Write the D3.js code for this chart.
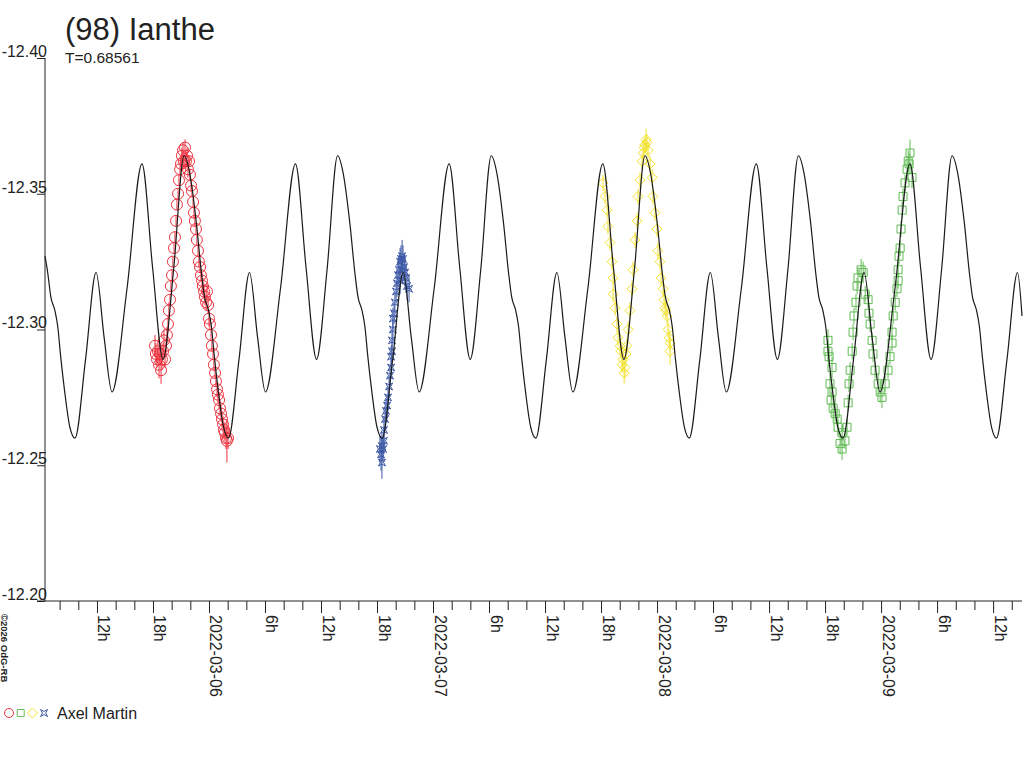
<!DOCTYPE html>
<html>
<head>
<meta charset="utf-8">
<script src="https://cdn.jsdelivr.net/npm/d3@7"></script>
<style>
  body { margin: 0; background: #fff; }
  svg { display: block; }
  text { font-family: "Liberation Sans", Arial, sans-serif; fill: #222; }
</style>
</head>
<body>
<div id="chart"></div>
<script>
const title = "(98) Ianthe"
const periodLabel = "T=0.68561"
const observer = "Axel Martin"
const credit = "\u00a92026 OdG-RB"

// times are days counted from 2022-03-06 00:00 UT
const t0 = Date.UTC(2022, 2, 6)
const xDomain = [-0.732, 3.629]
const yDomain = [-12.40, -12.20]
const yTicks = [-12.40, -12.35, -12.30, -12.25, -12.20]

// fitted light curve [day, mag]
const fitCurve = [
  [-0.732,-12.327],[-0.720,-12.321],[-0.706,-12.312],[-0.688,-12.307],[-0.675,-12.301],[-0.662,-12.290],[-0.644,-12.277],[-0.621,-12.264],
  [-0.598,-12.260],[-0.551,-12.289],[-0.504,-12.321],[-0.468,-12.297],[-0.433,-12.277],[-0.366,-12.315],[-0.299,-12.361],[-0.252,-12.323],[-0.205,-12.289],[-0.158,-12.322],
  [-0.111,-12.364],[-0.087,-12.358],[-0.056,-12.339],[-0.034,-12.321],[-0.020,-12.312],[-0.002,-12.307],[0.011,-12.301],[0.024,-12.290],[0.042,-12.277],[0.065,-12.264],
  [0.087,-12.260],[0.134,-12.289],[0.181,-12.321],[0.217,-12.297],[0.252,-12.277],[0.319,-12.315],[0.386,-12.361],[0.433,-12.323],[0.480,-12.289],[0.527,-12.322],
  [0.574,-12.364],[0.598,-12.358],[0.629,-12.339],[0.651,-12.321],[0.665,-12.312],[0.683,-12.307],[0.696,-12.301],[0.709,-12.290],[0.727,-12.277],[0.750,-12.264],
  [0.773,-12.260],[0.820,-12.289],[0.867,-12.321],[0.903,-12.297],[0.938,-12.277],[1.005,-12.315],[1.072,-12.361],[1.119,-12.323],[1.166,-12.289],[1.213,-12.322],
  [1.260,-12.364],[1.284,-12.358],[1.315,-12.339],[1.337,-12.321],[1.351,-12.312],[1.369,-12.307],[1.382,-12.301],[1.395,-12.290],[1.413,-12.277],[1.436,-12.264],
  [1.459,-12.260],[1.506,-12.289],[1.553,-12.321],[1.589,-12.297],[1.624,-12.277],[1.691,-12.315],[1.758,-12.361],[1.805,-12.323],[1.852,-12.289],[1.899,-12.322],
  [1.946,-12.364],[1.970,-12.358],[2.001,-12.339],[2.023,-12.321],[2.037,-12.312],[2.055,-12.307],[2.068,-12.301],[2.081,-12.290],[2.099,-12.277],[2.122,-12.264],
  [2.144,-12.260],[2.191,-12.289],[2.238,-12.321],[2.274,-12.297],[2.309,-12.277],[2.376,-12.315],[2.443,-12.361],[2.490,-12.323],[2.537,-12.289],[2.584,-12.322],
  [2.631,-12.364],[2.655,-12.358],[2.686,-12.339],[2.708,-12.321],[2.722,-12.312],[2.740,-12.307],[2.753,-12.301],[2.766,-12.290],[2.784,-12.277],[2.807,-12.264],
  [2.830,-12.260],[2.877,-12.289],[2.924,-12.321],[2.960,-12.297],[2.995,-12.277],[3.062,-12.315],[3.129,-12.361],[3.176,-12.323],[3.223,-12.289],[3.270,-12.322],
  [3.317,-12.364],[3.341,-12.358],[3.372,-12.339],[3.394,-12.321],[3.408,-12.312],[3.426,-12.307],[3.439,-12.301],[3.452,-12.290],[3.470,-12.277],[3.493,-12.264],
  [3.515,-12.260],[3.562,-12.289],[3.609,-12.321],[3.629,-12.305]
]

// observations [day, mag, error]
const session1 = [
  [-0.241,-12.294,0.004],[-0.237,-12.291,0.004],[-0.232,-12.289,0.003],[-0.228,-12.292,0.004],[-0.223,-12.287,0.005],
  [-0.219,-12.291,0.004],[-0.214,-12.285,0.005],[-0.210,-12.289,0.004],[-0.205,-12.292,0.003],[-0.201,-12.296,0.004],
  [-0.196,-12.289,0.003],[-0.192,-12.294,0.003],[-0.188,-12.298,0.003],[-0.183,-12.302,0.003],[-0.179,-12.307,0.003],
  [-0.174,-12.311,0.002],[-0.170,-12.316,0.002],[-0.165,-12.320,0.002],[-0.161,-12.325,0.002],[-0.156,-12.330,0.002],
  [-0.152,-12.334,0.002],[-0.147,-12.340,0.002],[-0.143,-12.346,0.002],[-0.138,-12.350,0.002],[-0.134,-12.355,0.002],
  [-0.129,-12.359,0.002],[-0.125,-12.361,0.003],[-0.121,-12.364,0.003],[-0.116,-12.366,0.003],[-0.112,-12.362,0.003],
  [-0.107,-12.367,0.003],[-0.103,-12.362,0.003],[-0.098,-12.364,0.003],[-0.094,-12.359,0.003],[-0.089,-12.362,0.002],
  [-0.085,-12.357,0.002],[-0.080,-12.353,0.002],[-0.076,-12.351,0.002],[-0.071,-12.347,0.002],[-0.067,-12.343,0.002],
  [-0.063,-12.340,0.002],[-0.058,-12.337,0.002],[-0.054,-12.333,0.002],[-0.049,-12.329,0.002],[-0.045,-12.325,0.002],
  [-0.040,-12.323,0.002],[-0.036,-12.320,0.002],[-0.031,-12.318,0.003],[-0.027,-12.316,0.003],[-0.022,-12.314,0.003],
  [-0.018,-12.312,0.003],[-0.013,-12.310,0.003],[-0.009,-12.314,0.003],[-0.004,-12.309,0.003],[0.000,-12.304,0.003],
  [0.004,-12.302,0.002],[0.009,-12.298,0.002],[0.013,-12.294,0.002],[0.018,-12.291,0.002],[0.022,-12.287,0.002],
  [0.027,-12.284,0.002],[0.031,-12.281,0.002],[0.036,-12.278,0.003],[0.040,-12.276,0.003],[0.045,-12.274,0.003],
  [0.049,-12.271,0.003],[0.054,-12.269,0.003],[0.058,-12.267,0.003],[0.063,-12.265,0.003],[0.067,-12.263,0.003],
  [0.071,-12.262,0.003],[0.076,-12.260,0.004],[0.080,-12.259,0.008],[0.085,-12.260,0.004]
]
const session2 = [
  [0.763,-12.256,0.005],[0.768,-12.254,0.006],[0.772,-12.257,0.005],[0.772,-12.251,0.006],[0.777,-12.256,0.005],
  [0.781,-12.259,0.005],[0.781,-12.263,0.005],[0.786,-12.267,0.004],[0.790,-12.270,0.004],[0.795,-12.272,0.004],
  [0.799,-12.275,0.004],[0.804,-12.279,0.004],[0.808,-12.283,0.004],[0.813,-12.286,0.004],[0.813,-12.290,0.004],
  [0.817,-12.292,0.004],[0.817,-12.296,0.004],[0.821,-12.300,0.004],[0.821,-12.304,0.004],[0.826,-12.306,0.004],
  [0.830,-12.310,0.004],[0.835,-12.314,0.004],[0.839,-12.317,0.005],[0.844,-12.320,0.005],[0.848,-12.322,0.005],
  [0.853,-12.325,0.005],[0.857,-12.326,0.005],[0.862,-12.327,0.006],[0.866,-12.326,0.005],[0.871,-12.323,0.005],
  [0.875,-12.321,0.005],[0.879,-12.319,0.005],[0.884,-12.316,0.005],[0.893,-12.315,0.005],[0.853,-12.318,0.005],
  [0.862,-12.322,0.005]
]
const session3 = [
  [1.759,-12.354,0.003],[1.768,-12.349,0.003],[1.777,-12.344,0.003],[1.781,-12.338,0.003],[1.790,-12.332,0.003],
  [1.799,-12.325,0.003],[1.804,-12.319,0.003],[1.804,-12.313,0.003],[1.813,-12.308,0.003],[1.821,-12.302,0.003],
  [1.826,-12.297,0.003],[1.835,-12.294,0.003],[1.839,-12.292,0.003],[1.844,-12.287,0.003],[1.848,-12.289,0.004],
  [1.853,-12.284,0.004],[1.857,-12.286,0.004],[1.862,-12.291,0.003],[1.866,-12.294,0.003],[1.871,-12.300,0.003],
  [1.879,-12.307,0.003],[1.888,-12.315,0.003],[1.893,-12.322,0.003],[1.902,-12.333,0.003],[1.911,-12.340,0.003],
  [1.915,-12.349,0.003],[1.924,-12.355,0.003],[1.933,-12.362,0.003],[1.938,-12.365,0.003],[1.942,-12.367,0.003],
  [1.946,-12.368,0.003],[1.951,-12.370,0.004],[1.955,-12.369,0.003],[1.960,-12.366,0.003],[1.969,-12.361,0.003],
  [1.978,-12.356,0.003],[1.982,-12.349,0.003],[1.991,-12.343,0.003],[2.000,-12.337,0.003],[2.004,-12.329,0.003],
  [2.013,-12.325,0.003],[2.018,-12.319,0.003],[2.027,-12.315,0.003],[2.031,-12.311,0.003],[2.036,-12.308,0.003],
  [2.040,-12.307,0.003],[2.045,-12.305,0.003],[2.049,-12.300,0.003],[2.054,-12.297,0.003],[2.058,-12.295,0.003],
  [2.058,-12.292,0.005]
]
const session4 = [
  [2.763,-12.296,0.004],[2.763,-12.292,0.004],[2.768,-12.290,0.004],[2.781,-12.286,0.004],[2.772,-12.280,0.004],
  [2.781,-12.277,0.003],[2.777,-12.274,0.003],[2.786,-12.271,0.003],[2.795,-12.269,0.003],[2.804,-12.267,0.003],
  [2.808,-12.264,0.003],[2.826,-12.262,0.003],[2.817,-12.258,0.004],[2.826,-12.256,0.004],[2.839,-12.259,0.003],
  [2.848,-12.264,0.003],[2.853,-12.273,0.003],[2.857,-12.280,0.003],[2.862,-12.285,0.003],[2.871,-12.292,0.003],
  [2.875,-12.299,0.003],[2.879,-12.305,0.003],[2.888,-12.310,0.003],[2.893,-12.316,0.003],[2.897,-12.319,0.004],
  [2.911,-12.322,0.004],[2.920,-12.321,0.004],[2.929,-12.313,0.003],[2.942,-12.311,0.003],[2.946,-12.306,0.003],
  [2.951,-12.302,0.003],[2.960,-12.296,0.003],[2.964,-12.291,0.003],[2.973,-12.285,0.003],[2.987,-12.280,0.004],
  [2.996,-12.277,0.004],[3.004,-12.275,0.004],[3.018,-12.280,0.003],[3.031,-12.285,0.003],[3.040,-12.290,0.003],
  [3.049,-12.295,0.003],[3.049,-12.299,0.003],[3.054,-12.305,0.003],[3.063,-12.310,0.003],[3.071,-12.315,0.003],
  [3.076,-12.318,0.003],[3.076,-12.322,0.003],[3.080,-12.327,0.003],[3.085,-12.330,0.003],[3.089,-12.337,0.003],
  [3.094,-12.344,0.003],[3.098,-12.349,0.003],[3.107,-12.354,0.003],[3.116,-12.359,0.004],[3.121,-12.362,0.004],
  [3.129,-12.365,0.005],[3.125,-12.361,0.004],[3.138,-12.356,0.004]
]

const sessions = [
  { data: session1, color: "#ee3340", mark: "circle" },
  { data: session2, color: "#3c58a6", mark: "star" },
  { data: session3, color: "#f2e22e", mark: "diamond" },
  { data: session4, color: "#62bb55", mark: "square" }
]
const legendOrder = ["circle", "square", "diamond", "star"]

const width = 1024
const height = 768

const toDate = d => new Date(t0 + d * 864e5)

const x = d3.scaleUtc()
    .domain(xDomain.map(toDate))
    .range([45, 1022])
const y = d3.scaleLinear()
    .domain(yDomain)
    .range([58, 601])

const svg = d3.select("#chart")
    .append("svg")
    .attr("width", width)
    .attr("height", height)

// marker shapes, centred on 0,0
function markPath(kind, s) {
    const p = d3.path()
    if (kind == "square") {
        p.rect(-s, -s, 2 * s, 2 * s)
    } else if (kind == "diamond") {
        p.moveTo(0, -s); p.lineTo(s, 0); p.lineTo(0, s); p.lineTo(-s, 0); p.closePath()
    } else if (kind == "star") {
        const k = s * 0.45
        p.moveTo(-s, -s); p.lineTo(0, -k); p.lineTo(s, -s); p.lineTo(k, 0)
        p.lineTo(s, s); p.lineTo(0, k); p.lineTo(-s, s); p.lineTo(-k, 0); p.closePath()
    } else {
        p.arc(0, 0, s, 0, 2 * Math.PI)
    }
    return p.toString()
}
const markSize = { circle: 5.5, square: 4, diamond: 5, star: 3.5 }

// error bars and marks
sessions.forEach(s => {
    const g = svg.append("g")
    g.selectAll("line")
        .data(s.data)
        .join("line")
        .attr("x1", d => x(toDate(d[0])))
        .attr("x2", d => x(toDate(d[0])))
        .attr("y1", d => y(d[1] - d[2]))
        .attr("y2", d => y(d[1] + d[2]))
        .attr("stroke", s.color)
        .attr("stroke-width", 1)
    g.selectAll("path")
        .data(s.data)
        .join("path")
        .attr("d", markPath(s.mark, markSize[s.mark]))
        .attr("transform", d => `translate(${x(toDate(d[0]))},${y(d[1])})`)
        .attr("fill", "none")
        .attr("stroke", s.color)
        .attr("stroke-width", 1)
})

// fitted curve
const line = d3.line()
    .x(d => x(toDate(d[0])))
    .y(d => y(d[1]))
    .curve(d3.curveMonotoneX)

svg.append("path")
    .datum(fitCurve)
    .attr("d", line)
    .attr("fill", "none")
    .attr("stroke", "#1a1a1a")
    .attr("stroke-width", 1.2)

// axes
const fmtDay = d3.utcFormat("%Y-%m-%d")
const xAxis = d3.axisBottom(x)
    .ticks(d3.utcHour.every(2))
    .tickSizeOuter(0)
    .tickFormat(d => {
        const h = d.getUTCHours()
        if (h == 0) return fmtDay(d)
        if (h % 6 == 0) return h + "h"
        return ""
    })

svg.append("g")
    .attr("transform", "translate(0,601)")
    .call(xAxis)
    .call(g => g.select(".domain").remove())
    .call(g => g.selectAll(".tick line")
        .attr("y2", d => d.getUTCHours() % 6 == 0 ? 12 : 9)
        .attr("stroke", "#222"))
    .call(g => g.selectAll(".tick text")
        .attr("transform", "rotate(90)")
        .attr("x", 14)
        .attr("y", -1)
        .attr("dy", 0)
        .attr("text-anchor", "start")
        .style("font-family", "'Liberation Sans', Arial, sans-serif")
        .style("font-size", "16px")
        .attr("fill", "#222"))

const yAxis = d3.axisLeft(y)
    .tickValues(yTicks)
    .tickSize(8)
    .tickFormat(d => d.toFixed(2))

svg.append("g")
    .attr("transform", "translate(45,0)")
    .call(yAxis)
    .call(g => g.select(".domain").remove())
    .call(g => g.selectAll(".tick line").attr("stroke", "#222"))
    .call(g => g.selectAll(".tick text")
        .attr("x", 2)
        .attr("dy", "-0.1em")
        .style("font-family", "'Liberation Sans', Arial, sans-serif")
        .style("font-size", "16px")
        .attr("fill", "#222"))

svg.append("line")
    .attr("x1", 45).attr("x2", 45)
    .attr("y1", y(yDomain[0])).attr("y2", y(yDomain[1]))
    .attr("stroke", "#222")
svg.append("line")
    .attr("x1", 37).attr("x2", x.range()[1])
    .attr("y1", 601).attr("y2", 601)
    .attr("stroke", "#222")

// titles
svg.append("text")
    .attr("x", 65)
    .attr("y", 40)
    .style("font-size", "31px")
    .text(title)
svg.append("text")
    .attr("x", 65)
    .attr("y", 63)
    .style("font-size", "15.5px")
    .text(periodLabel)

svg.append("text")
    .attr("transform", "translate(1,614) rotate(90)")
    .style("font-size", "9.5px")
    .style("font-weight", "bold")
    .text(credit)

// legend
const legend = svg.append("g").attr("transform", "translate(0,713)")
legendOrder.forEach((m, i) => {
    const s = sessions.find(d => d.mark == m)
    legend.append("path")
        .attr("d", markPath(m, { circle: 4.5, square: 3.5, diamond: 5, star: 3.5 }[m]))
        .attr("transform", `translate(${9 + i * 11.7},0)`)
        .attr("fill", "none")
        .attr("stroke", s.color)
})
legend.append("text")
    .attr("x", 57)
    .attr("y", 6)
    .style("font-size", "16px")
    .text(observer)
</script>
</body>
</html>
